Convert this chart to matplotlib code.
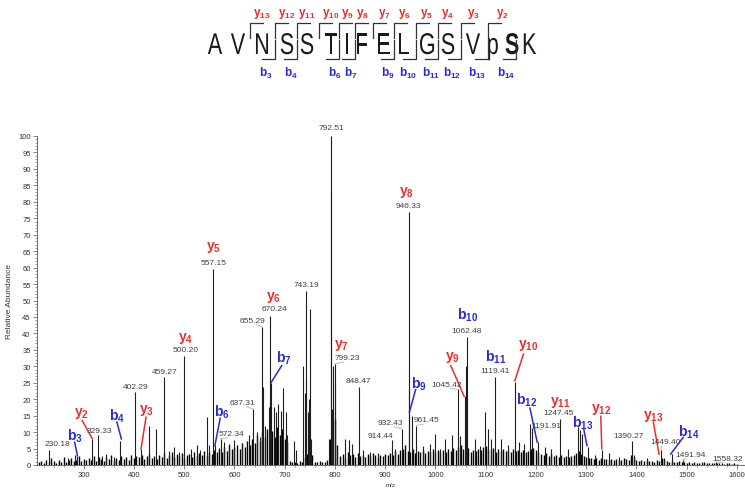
import matplotlib
matplotlib.use('Agg')
import numpy as np
import matplotlib.pyplot as plt
from matplotlib.textpath import TextPath
from matplotlib.patches import PathPatch
from matplotlib.font_manager import FontProperties
from matplotlib.transforms import Affine2D

plt.rcParams['font.family'] = ['Liberation Sans', 'DejaVu Sans']
plt.rcParams['mathtext.fontset'] = 'custom'
plt.rcParams['mathtext.bf'] = 'Liberation Sans:bold'
plt.rcParams['mathtext.rm'] = 'Liberation Sans'

# **** data ****

# peptide sequence and observed fragment ions
residues = ['A', 'V', 'N', 'S', 'S', 'T', 'I', 'F', 'E', 'L', 'G', 'S', 'V', 'pS', 'K']
y_ions = [13, 12, 11, 10, 9, 8, 7, 6, 5, 4, 3, 2]
b_ions = [3, 4, 6, 7, 9, 10, 11, 12, 13, 14]

# background noise, one value every 5 m/z starting at 210
noise_start, noise_step = 210, 5
noise_int = [
    0.8, 1.3, 0.6, 1.5, 0.9, 2.1, 1.1, 0.7, 1.6, 1.0, 2.3, 0.9, 1.4, 2.0, 1.1, 1.5, 2.6, 1.2, 1.8, 1.4,
    2.2, 1.6, 2.8, 1.3, 2.5, 1.9, 1.2, 2.4, 1.7, 3.0, 1.5, 2.1, 1.4, 2.6, 1.8, 2.3, 1.6, 2.9, 2.0, 2.7,
    2.4, 3.1, 1.8, 2.6, 3.3, 2.0, 2.8, 1.7, 3.0, 2.3, 3.5, 2.1, 2.9, 3.8, 2.4, 3.2, 2.6, 3.6, 2.2, 3.0,
    3.4, 2.5, 4.0, 2.8, 3.6, 3.1, 4.4, 2.7, 3.9, 3.3, 4.6, 3.8, 5.2, 4.1, 5.6, 4.4, 6.0, 4.8, 5.4, 6.2,
    5.0, 6.6, 5.4, 7.2, 6.0, 8.0, 6.8, 9.0, 7.4, 10.0, 8.4, 11.0, 9.2, 10.4, 8.6, 11.5, 9.0, 10.8, 8.0, 7.0,
    1.2, 0.8, 1.0, 0.7, 1.1, 0.9, 2.5, 3.2, 4.0, 3.0, 1.0, 0.8, 1.2, 0.9, 1.0, 1.4, 8.0, 12.0, 14.0, 6.0,
    2.6, 3.4, 2.2, 3.8, 2.9, 3.2, 2.5, 3.6, 2.8, 3.0, 2.4, 3.3, 2.6, 3.5, 2.9, 2.3, 3.1, 2.7, 3.4, 3.0,
    3.6, 2.9, 4.2, 3.3, 4.6, 5.0, 6.0, 4.4, 3.8, 4.8, 3.5, 4.3, 3.9, 4.7, 3.6, 4.4, 3.8, 4.9, 4.1, 4.5,
    4.0, 4.6, 3.8, 4.9, 4.2, 5.2, 4.5, 5.5, 6.0, 4.8, 4.3, 5.1, 4.0, 4.7, 4.4, 5.0, 4.6, 5.4, 5.8, 5.0,
    4.5, 5.2, 4.1, 4.8, 4.4, 5.0, 4.2, 4.7, 4.0, 4.9, 4.3, 4.6, 4.1, 4.5, 3.9, 4.4, 4.8, 5.2, 4.6, 4.0,
    3.4, 3.0, 3.6, 2.8, 3.2, 2.6, 3.0, 2.5, 2.9, 2.4, 2.8, 2.3, 2.7, 3.0, 3.6, 4.2, 3.4, 2.8, 2.4, 2.2,
    2.0, 1.8, 2.2, 1.6, 2.0, 1.7, 1.9, 1.5, 1.8, 1.4, 1.7, 1.5, 1.6, 2.0, 1.8, 1.5, 3.0, 2.4, 1.6, 1.3,
    1.4, 1.2, 1.5, 1.1, 1.3, 1.0, 1.4, 1.2, 2.0, 1.8, 1.1, 0.9, 1.2, 1.0, 0.9, 1.1, 0.8, 1.0, 0.7, 0.9,
    0.6, 0.8, 0.5, 0.7, 0.6, 0.8, 0.5, 0.7, 0.6, 0.5, 0.7, 0.5, 0.6, 0.4, 0.6, 0.5, 0.4, 0.5, 0.4,
]
noise_mz = noise_start + noise_step * np.arange(len(noise_int))

# distinct peaks (m/z, relative abundance)
peak_mz = [
    230.18, 268, 283, 287, 317, 329.33, 336, 345, 360, 373,
    402.29, 414, 429, 443, 459.27, 470, 480, 490, 500.20, 513,
    525, 532, 545, 550, 557.15, 561, 572.34, 580, 590, 600,
    615, 628, 637.31, 645, 650, 655.29, 656.7, 660, 668.6, 670.24,
    673.5, 678.5, 683, 687, 691.8, 696.4, 701.6, 705, 718, 722.7,
    737, 740, 741.4, 743.19, 746, 748, 749.5, 753, 789, 791.5,
    792.51, 794, 796, 799.23, 801, 804, 820.6, 827, 833, 848.47,
    855, 870, 885, 914.44, 920, 932.43, 946.33, 948, 952.6, 961.45,
    975.8, 989, 999, 1009, 1019, 1032, 1045.42, 1048.5, 1058, 1061,
    1062.48, 1078, 1088, 1099, 1104.6, 1110, 1119.41, 1131, 1144, 1158,
    1165.5, 1177, 1189, 1191.91, 1204, 1217, 1230, 1247.45, 1263, 1284,
    1288, 1291, 1303, 1318, 1331, 1346, 1366, 1390.27, 1395, 1420,
    1449.40, 1455, 1470, 1491.94, 1530, 1558.32,
]
peak_int = [
    4.5, 2.2, 3.0, 2.8, 8.0, 9.0, 2.8, 3.2, 2.4, 7.4,
    22.2, 5.0, 11.8, 11.0, 26.7, 4.2, 5.5, 3.8, 33.2, 5.0,
    6.0, 4.5, 14.6, 6.0, 59.6, 6.0, 8.0, 7.0, 6.5, 7.5,
    6.8, 9.0, 17.0, 10.0, 8.5, 42.0, 23.6, 12.0, 17.5, 45.4,
    25.0, 17.5, 16.0, 18.5, 16.5, 23.3, 16.0, 9.0, 7.4, 4.5,
    30.2, 22.0, 26.0, 53.0, 16.0, 20.0, 47.4, 8.0, 8.0, 83.0,
    100.0, 17.0, 30.2, 30.7, 25.0, 5.0, 8.0, 7.5, 6.5, 23.7,
    4.5, 4.0, 3.5, 7.6, 5.0, 11.0, 77.0, 23.0, 15.0, 12.0,
    5.9, 6.5, 9.4, 5.0, 8.0, 9.0, 23.0, 8.8, 21.0, 30.0,
    38.8, 8.0, 5.9, 16.0, 11.0, 8.0, 26.7, 8.0, 6.0, 25.3,
    7.0, 6.5, 12.5, 11.2, 7.0, 5.5, 5.0, 14.0, 5.0, 11.5,
    10.5, 9.3, 5.4, 3.0, 4.5, 3.5, 2.5, 7.3, 3.0, 2.2,
    4.5, 2.0, 3.2, 1.5, 1.0, 1.0,
]

# m/z labels: text, label position (m/z, abundance), connector to peak top or None
mz_labels = [
    ('230.18', 247, 6.6, None), ('329.33', 332, 10.4, None), ('402.29', 404, 24.0, None),
    ('459.27', 460, 28.5, None), ('500.20', 502, 35.0, None), ('557.15', 558, 61.6, None),
    ('572.34', 594, 9.6, (572.34, 8.0)), ('637.31', 616, 19.0, (637.31, 17.0)),
    ('655.29', 635, 44.0, (655.29, 42.0)), ('670.24', 679, 47.6, None),
    ('743.19', 743, 55.0, None), ('792.51', 792, 102.5, None),
    ('799.23', 825, 32.6, (799.23, 30.7)), ('848.47', 847, 25.6, None),
    ('914.44', 890, 9.0, None), ('932.43', 910, 12.9, (932.43, 11.0)),
    ('946.33', 946, 79.0, None), ('961.45', 983, 13.7, (961.45, 12.0)),
    ('1045.42', 1022, 24.6, (1045.42, 23.0)), ('1062.48', 1062, 41.0, None),
    ('1119.41', 1118, 28.6, None), ('1191.91', 1220, 12.1, (1191.91, 11.2)),
    ('1247.45', 1245, 15.9, None), ('1390.27', 1385, 9.1, None),
    ('1449.40', 1457, 7.1, (1449.40, 4.5)), ('1491.94', 1507, 3.2, (1491.94, 1.5)),
    ('1558.32', 1581, 2.0, (1558.32, 1.0)),
]

# ion labels in the spectrum: name, label position, pointer line or None
ion_labels = [
    ('y2', 295, 16.0, (297, 13.5, 317, 8.0)), ('b3', 282, 8.9, (282, 6.9, 287.5, 2.8)),
    ('b4', 366, 15.0, (366, 13.0, 375, 7.9)), ('y3', 425.5, 16.8, (424, 14.5, 414, 4.9)),
    ('b6', 575, 16.3, (571.5, 14.2, 561, 5.9)), ('b7', 698, 32.7, (694, 30.2, 673, 25.1)),
    ('y4', 502, 38.8, None), ('y5', 558, 66.4, None), ('y6', 678.5, 51.2, None),
    ('y7', 812, 36.7, None), ('y8', 942, 83.1, None),
    ('b9', 966, 24.9, (960.5, 22.9, 948, 16.0)), ('y9', 1033, 33.0, (1030.5, 30.2, 1057, 20.9)),
    ('b10', 1064, 45.8, None), ('b11', 1119, 33.1, None),
    ('y10', 1185, 36.5, (1175, 33.7, 1158, 25.6)), ('b12', 1182, 20.0, (1188, 17.3, 1202.5, 6.9)),
    ('y11', 1248.5, 19.2, None), ('b13', 1293, 13.0, (1295, 11.0, 1301.5, 5.9)),
    ('y12', 1330, 17.2, (1329, 14.8, 1331, 4.9)), ('y13', 1433.6, 15.0, (1433.6, 13.0, 1445, 3.3)),
    ('b14', 1504, 10.2, (1493, 8.4, 1468, 3.3)),
]

RED = '#e3302f'
BLUE = '#2a2ad2'


def ion_text(name):
    return r'$\mathbf{%s}_{\mathbf{%s}}$' % (name[0], name[1:])


fig = plt.figure(figsize=(7.45, 4.89), dpi=100)

# **** spectrum ****
ax = fig.add_axes([37 / 745, 23 / 489, 708 / 745, 329 / 489])
ax.set_xlim(207, 1616)
ax.set_ylim(0, 100)

ax.vlines(noise_mz, 0, noise_int, color='black', lw=1.0)
ax.vlines(peak_mz, 0, peak_int, color='#1e1e1e', lw=0.8)

for txt, lx, ly, conn in mz_labels:
    ax.text(lx, ly, txt, ha='center', va='center', fontsize=6, color='#404040', clip_on=False)
    if conn is not None:
        ax.plot([lx - 8 if conn[0] < lx else lx + 8, conn[0]], [ly - 1.3, conn[1]],
                color='#8ccf8c', lw=0.6)

for name, lx, ly, line in ion_labels:
    col = RED if name[0] == 'y' else BLUE
    ax.text(lx, ly, ion_text(name), ha='center', va='center', fontsize=10, color=col, clip_on=False)
    if line is not None:
        ax.plot([line[0], line[2]], [line[1], line[3]], color=col, lw=1.1)

ax.spines['top'].set_visible(False)
ax.spines['right'].set_visible(False)
for s in ('left', 'bottom'):
    ax.spines[s].set_color('#555555')
    ax.spines[s].set_linewidth(0.6)
ax.set_xticks(np.arange(300, 1601, 100))
ax.set_xticks(np.arange(220, 1611, 20), minor=True)
ax.set_yticks(np.arange(0, 101, 5))
ax.set_yticks(np.arange(0, 101, 1), minor=True)
ax.tick_params(which='major', length=3, width=0.5, color='#555555', labelsize=5.5,
               labelcolor='#333333', pad=1.5)
ax.tick_params(which='minor', length=1.5, width=0.4, color='#555555')
ax.set_ylabel('Relative Abundance', fontsize=6, color='#333333', labelpad=4)
ax.set_xlabel('m/z', fontsize=4.5, color='#333333', labelpad=3)

# **** peptide header ****
hdr = fig.add_axes([0, 0, 1, 1])
hdr.set_xlim(0, 745)
hdr.set_ylim(489, 0)
hdr.axis('off')


def letter(ch, x, bold=False):
    # narrow letter drawn as a path, baseline at y=55
    prop = FontProperties(family='Liberation Sans', weight='bold' if bold else 'normal')
    tp = TextPath((0, 0), ch, size=30, prop=prop)
    bb = tp.get_extents()
    tr = Affine2D().translate(-(bb.x0 + bb.x1) / 2, 0).scale(0.72, -1).translate(x, 55)
    hdr.add_patch(PathPatch(tr.transform_path(tp), facecolor='#1a1a1a', lw=0))


res_x = [215, 238, 262, 287, 307, 331, 347, 362, 384, 404, 427, 448, 473, 502, 530]
for r, x in zip(residues, res_x):
    if r == 'pS':
        letter('p', x - 9)
        letter('S', x + 10, bold=True)
    else:
        letter(r, x)

n = len(residues)
for k in y_ions:
    i = n - k  # residue index after the cut
    cx = (res_x[i - 1] + res_x[i]) / 2
    hdr.plot([cx, cx, cx + 13], [39, 24, 24], color='#333333', lw=0.9)
    hdr.text(res_x[i], 14, ion_text('y%d' % k), ha='center', va='center', fontsize=8.5, color=RED)
for k in b_ions:
    i = k  # residue index after the cut
    cx = (res_x[i - 1] + res_x[i]) / 2
    hdr.plot([cx - 13, cx, cx], [60, 60, 41], color='#333333', lw=0.9)
    hdr.text(res_x[i - 1] + 4, 73, ion_text('b%d' % k), ha='center', va='center', fontsize=8.5,
             color=BLUE)

fig.savefig('out.png', dpi=100)
